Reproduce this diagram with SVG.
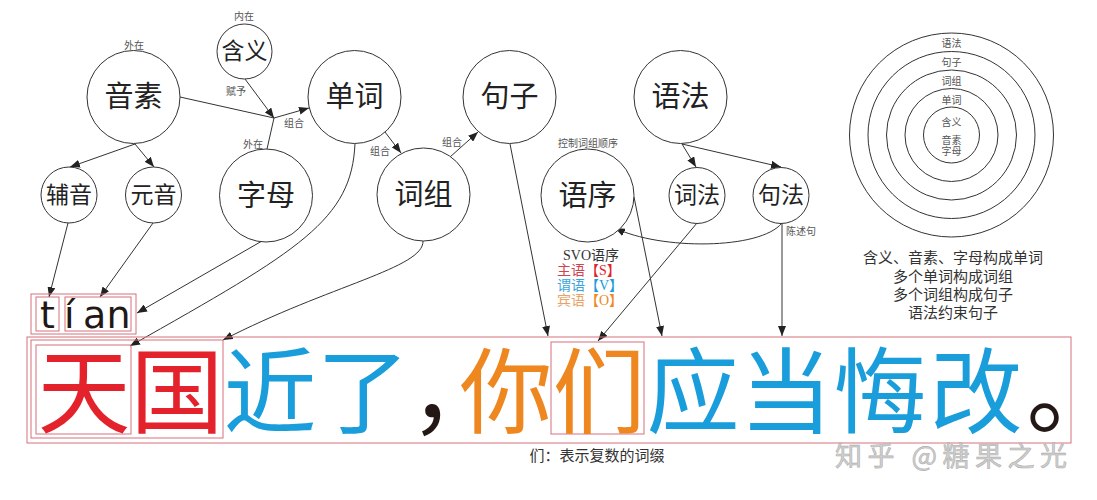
<svg xmlns="http://www.w3.org/2000/svg" width="1097" height="500" viewBox="0 0 1097 500">
<style>
.n{fill:#fff;stroke:#333;stroke-width:1}
.nl{font-family:"Liberation Serif","Noto Sans CJK SC",serif;fill:#222;text-anchor:middle;dominant-baseline:central}
.big{font-size:29px}
.sm{font-size:23px}
.lab{font-family:"Liberation Serif","Noto Sans CJK SC",serif;font-size:10px;fill:#555;text-anchor:middle;dominant-baseline:central}
.c{fill:none;stroke:#333;stroke-width:1}
.box{fill:none;stroke:#d4707a;stroke-width:1}
.ch{font-family:"Noto Sans CJK SC",sans-serif;font-size:93px;dominant-baseline:central;font-feature-settings:"halt"}
.red{fill:#e3222b}.blue{fill:#1a9ddb}.ora{fill:#ee8720}.dk{fill:#231815}
.cap{font-family:"Liberation Serif","Noto Sans CJK SC",serif;font-size:15px;fill:#333;text-anchor:middle;dominant-baseline:central}
.svo{font-family:"Liberation Serif","Noto Sans CJK SC",serif;font-size:14px;dominant-baseline:central}
</style>
<defs>
<marker id="ah" markerUnits="userSpaceOnUse" markerWidth="11" markerHeight="8" refX="10" refY="4" orient="auto">
<path d="M0,0 L10,4 L0,8 z" fill="#222"/>
</marker>
</defs>

<g id="connectors" fill="none" stroke="#333" stroke-width="1">
<path d="M180,97 L274,118"/>
<path d="M267,149 L274,118"/>
<path d="M245,79 L274,118" marker-end="url(#ah)"/>
<path d="M274,118 L309,108" marker-end="url(#ah)"/>
<path d="M135,144 L70,167" marker-end="url(#ah)"/>
<path d="M135,144 L154,167" marker-end="url(#ah)"/>
<path d="M68,223 L49,297" marker-end="url(#ah)"/>
<path d="M153,223 L100,297" marker-end="url(#ah)"/>
<path d="M262,241 L137,313" marker-end="url(#ah)"/>
<path d="M355,143 C352,220 300,250 130,346" marker-end="url(#ah)"/>
<path d="M423,241 C424,268 330,285 223,340" marker-end="url(#ah)"/>
<path d="M385,132 L401,153" marker-end="url(#ah)"/>
<path d="M450,157 L478,132" marker-end="url(#ah)"/>
<path d="M510,144 L548,336" marker-end="url(#ah)"/>
<path d="M634,197 L662,336" marker-end="url(#ah)"/>
<path d="M697,223 L598,341" marker-end="url(#ah)"/>
<path d="M782,223 C760,250 660,250 615,228" marker-end="url(#ah)"/>
<path d="M782,223 L782,336" marker-end="url(#ah)"/>
<path d="M682,144 L696,167" marker-end="url(#ah)"/>
<path d="M682,144 L781,167" marker-end="url(#ah)"/>
</g>

<g id="edge-labels">
<text class="lab" x="244" y="16">内在</text>
<text class="lab" x="134" y="45">外在</text>
<text class="lab" x="236" y="91">赋予</text>
<text class="lab" x="294" y="123">组合</text>
<text class="lab" x="253" y="144">外在</text>
<text class="lab" x="380" y="151">组合</text>
<text class="lab" x="452" y="142">组合</text>
<text class="lab" x="588" y="143">控制词组顺序</text>
<text class="lab" x="801" y="231">陈述句</text>
</g>

<g id="n-hanyi"><circle class="n" cx="244.5" cy="51.5" r="27.5"/><text class="nl sm" x="244.5" y="51.5">含义</text></g>
<g id="n-yinsu"><circle class="n" cx="133.5" cy="97" r="46.5"/><text class="nl big" x="133.5" y="97">音素</text></g>
<g id="n-danci"><circle class="n" cx="354.5" cy="97" r="46.5"/><text class="nl big" x="354.5" y="97">单词</text></g>
<g id="n-juzi"><circle class="n" cx="509.5" cy="97" r="46.5"/><text class="nl big" x="509.5" y="97">句子</text></g>
<g id="n-yufa"><circle class="n" cx="680.5" cy="97" r="46.5"/><text class="nl big" x="680.5" y="97">语法</text></g>
<g id="n-fuyin"><circle class="n" cx="69" cy="195" r="28"/><text class="nl sm" x="69" y="195">辅音</text></g>
<g id="n-yuanyin"><circle class="n" cx="153.5" cy="195" r="28"/><text class="nl sm" x="153.5" y="195">元音</text></g>
<g id="n-zimu"><circle class="n" cx="266" cy="195.5" r="46.5"/><text class="nl big" x="266" y="195.5">字母</text></g>
<g id="n-cizu"><circle class="n" cx="423.5" cy="194.5" r="46.5"/><text class="nl big" x="423.5" y="194.5">词组</text></g>
<g id="n-yuxu"><circle class="n" cx="587.5" cy="195.5" r="46.5"/><text class="nl big" x="587.5" y="195.5">语序</text></g>
<g id="n-cifa"><circle class="n" cx="697" cy="195.5" r="28"/><text class="nl sm" x="697" y="195.5">词法</text></g>
<g id="n-jufa"><circle class="n" cx="781" cy="195.5" r="28"/><text class="nl sm" x="781" y="195.5">句法</text></g>

<g id="svo">
<text class="svo" x="563" y="255" fill="#333">SVO语序</text>
<text class="svo" x="557" y="270"><tspan fill="#d04452">主语</tspan><tspan fill="#e3222b">【S】</tspan></text>
<text class="svo" x="557" y="285"><tspan fill="#3aa5dc">谓语</tspan><tspan fill="#1a9ddb">【V】</tspan></text>
<text class="svo" x="557" y="300"><tspan fill="#e8a468">宾语</tspan><tspan fill="#ee8720">【O】</tspan></text>
</g>

<g id="rings">
<circle class="c" cx="951.5" cy="135" r="102"/>
<circle class="c" cx="951.5" cy="135" r="83.5"/>
<circle class="c" cx="951.5" cy="135" r="65"/>
<circle class="c" cx="951.5" cy="135" r="46.5"/>
<circle class="c" cx="951.5" cy="135" r="28"/>
<text class="lab" x="951.5" y="43">语法</text>
<text class="lab" x="951.5" y="62">句子</text>
<text class="lab" x="951.5" y="81">词组</text>
<text class="lab" x="951.5" y="100">单词</text>
<text class="lab" x="951.5" y="122">含义</text>
<text class="lab" x="951.5" y="140">音素</text>
<text class="lab" x="951.5" y="151">字母</text>
</g>

<g id="summary">
<text class="cap" x="953" y="258">含义、音素、字母构成单词</text>
<text class="cap" x="953" y="277">多个单词构成词组</text>
<text class="cap" x="953" y="295">多个词组构成句子</text>
<text class="cap" x="953" y="313">语法约束句子</text>
</g>

<g id="pinyin">
<rect class="box" x="31" y="294" width="105" height="40"/>
<rect class="box" x="36" y="297" width="23" height="34"/>
<rect class="box" x="65" y="297" width="66" height="34"/>
<text y="328" font-family="DejaVu Sans,sans-serif" font-size="38" fill="#231815"><tspan x="40">t</tspan><tspan x="64">í</tspan><tspan x="83">a</tspan><tspan x="106.5">n</tspan></text>
</g>

<g id="sentence">
<rect class="box" x="27" y="337" width="1044" height="106"/>
<rect class="box" x="31" y="340" width="192" height="98"/>
<rect class="box" x="36" y="345" width="95" height="89"/>
<rect class="box" x="551" y="342" width="93" height="92"/>
<text class="ch" y="385"><tspan class="red" x="37.5">天</tspan><tspan class="red" x="130.5">国</tspan><tspan class="blue" x="223.5">近</tspan><tspan class="blue" x="316.5">了</tspan><tspan class="dk" x="409.5">，</tspan><tspan class="ora" x="459.5">你</tspan><tspan class="ora" x="552.5">们</tspan><tspan class="blue" x="646.5">应</tspan><tspan class="blue" x="739.5">当</tspan><tspan class="blue" x="833.5">悔</tspan><tspan class="blue" x="929.5">改</tspan><tspan class="dk" x="1026.5">。</tspan></text>
</g>

<text class="cap" x="597" y="456">们：表示复数的词缀</text>
<text x="835" y="466" font-family="Noto Sans CJK SC,sans-serif" font-size="27" fill="#cfcfcf" stroke="#b0b0b0" stroke-width="0.6" textLength="232">知乎 @糖果之光</text>
</svg>
